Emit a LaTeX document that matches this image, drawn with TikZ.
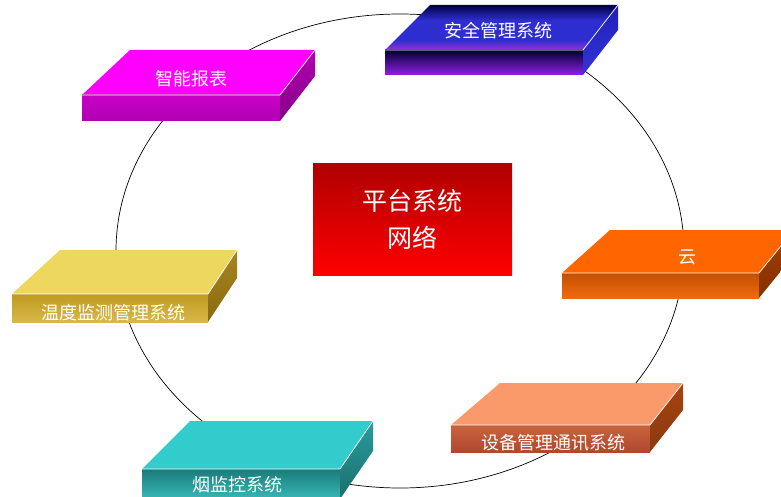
\documentclass[tikz,border=0pt]{standalone}
\usepackage{fontspec}
\newfontfamily\cjk{Noto Sans CJK SC}
\definecolor{aqTopA}{HTML}{000048}
\definecolor{aqTopB}{HTML}{2E2ED0}
\definecolor{aqTopC}{HTML}{9A30D8}
\definecolor{aqFrA}{HTML}{000030}
\definecolor{aqFrB}{HTML}{9020E8}
\definecolor{aqSdA}{HTML}{2020B8}
\definecolor{aqSdB}{HTML}{3434D8}
\definecolor{znTop}{HTML}{FF00FF}
\definecolor{znFrA}{HTML}{C800C8}
\definecolor{znFrB}{HTML}{B000B0}
\definecolor{znSdA}{HTML}{B000B0}
\definecolor{znSdB}{HTML}{880088}
\definecolor{ynTop}{HTML}{FF6600}
\definecolor{ynFrA}{HTML}{C45000}
\definecolor{ynFrB}{HTML}{F06A10}
\definecolor{ynSdA}{HTML}{A04000}
\definecolor{ynSdB}{HTML}{853000}
\definecolor{wdTop}{HTML}{EDD75E}
\definecolor{wdFrA}{HTML}{C09A20}
\definecolor{wdFrB}{HTML}{D8B848}
\definecolor{wdSdA}{HTML}{A88420}
\definecolor{wdSdB}{HTML}{8A6A10}
\definecolor{sbTop}{HTML}{FA9A6A}
\definecolor{sbFrA}{HTML}{C8643C}
\definecolor{sbFrB}{HTML}{B04830}
\definecolor{sbSdA}{HTML}{A8420F}
\definecolor{sbSdB}{HTML}{8A3A10}
\definecolor{yjTop}{HTML}{33CCCC}
\definecolor{yjFrA}{HTML}{1C7A7A}
\definecolor{yjFrB}{HTML}{38B8B8}
\definecolor{yjSdA}{HTML}{2A9C9C}
\definecolor{yjSdB}{HTML}{1A6E6E}
\definecolor{ctrA}{HTML}{B00000}
\definecolor{ctrB}{HTML}{FF0000}
\pgfdeclareverticalshading{aqtopshade}{100bp}{color(0bp)=(aqTopC); color(25bp)=(aqTopC); color(36bp)=(aqTopB); color(58bp)=(aqTopB); color(75bp)=(aqTopA); color(100bp)=(aqTopA)}
\tikzset{
  aq-top/.style={shading=aqtopshade},
  aq-front/.style={top color=aqFrA, bottom color=aqFrB},
  aq-side/.style={top color=aqSdA, bottom color=aqSdB},
  zn-top/.style={fill=znTop},
  zn-front/.style={top color=znFrA, bottom color=znFrB},
  zn-side/.style={top color=znSdA, bottom color=znSdB},
  yn-top/.style={fill=ynTop},
  yn-front/.style={top color=ynFrA, bottom color=ynFrB},
  yn-side/.style={top color=ynSdA, bottom color=ynSdB},
  wd-top/.style={fill=wdTop},
  wd-front/.style={top color=wdFrA, bottom color=wdFrB},
  wd-side/.style={top color=wdSdA, bottom color=wdSdB},
  sb-top/.style={fill=sbTop},
  sb-front/.style={top color=sbFrA, bottom color=sbFrB},
  sb-side/.style={top color=sbSdA, bottom color=sbSdB},
  yj-top/.style={fill=yjTop},
  yj-front/.style={top color=yjFrA, bottom color=yjFrB},
  yj-side/.style={top color=yjSdA, bottom color=yjSdB},
  lbl/.style={text=white, inner sep=0pt, font=\cjk\fontsize{18}{20}\selectfont},
  ring/.style={draw=black, line width=0.7pt}
}
% #1 x0, #2 y0 (front top-left), #3 width, #4 front height, #5 left offset, #6 right offset, #7 depth, #8 style prefix
\newcommand\myslab[8]{%
  \path[#8-top] (#1+#5,#2-#7) -- (#1+#3+#6,#2-#7) -- (#1+#3,#2) -- (#1,#2) -- cycle;
  \path[#8-front] (#1,#2) rectangle (#1+#3,#2+#4);
  \path[#8-side] (#1+#3,#2) -- (#1+#3+#6,#2-#7) -- (#1+#3+#6,#2-#7+#4) -- (#1+#3,#2+#4) -- cycle;
  \draw[white, line width=0.7pt] (#1,#2) -- (#1+#3,#2) -- (#1+#3+#6,#2-#7);
}
\begin{document}
\begin{tikzpicture}[x=1pt,y=-1pt]
\clip (0,0) rectangle (781,497);
\fill[white] (0,0) rectangle (781,497);
\draw[ring] (400,251) ellipse [x radius=284pt, y radius=237pt];
\node[rectangle, top color=ctrA, bottom color=ctrB, minimum width=199pt, minimum height=111pt,
  inner sep=0pt, align=center, text=white, font=\cjk\fontsize{25}{37}\selectfont] (center) at (412.5,219.5) {平台系统\\网络};
\myslab{385}{50}{198}{25}{45}{35}{45}{aq}
\myslab{82}{95}{198}{26}{48}{35}{45}{zn}
\myslab{562}{273}{197}{25}{48}{35}{43}{yn}
\myslab{12}{294}{196}{28}{48}{29}{44}{wd}
\myslab{451}{425}{199}{27}{49}{33}{42}{sb}
\myslab{142}{469}{198}{30}{48}{33}{48}{yj}
\node[lbl] (anquan) at (498,31) {安全管理系统};
\node[lbl] (zhineng) at (191,79) {智能报表};
\node[lbl] (yun) at (687,257) {云};
\node[lbl] (wendu) at (113,313) {温度监测管理系统};
\node[lbl] (shebei) at (553,443) {设备管理通讯系统};
\node[lbl] (yan) at (237,485) {烟监控系统};
\end{tikzpicture}
\end{document}
